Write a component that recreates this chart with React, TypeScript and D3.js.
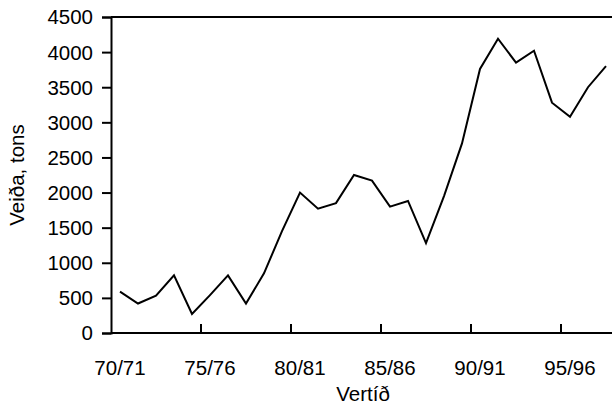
import { useEffect, useRef } from 'react';
import * as d3 from 'd3';

const seasons = [
  '70/71', '71/72', '72/73', '73/74', '74/75', '75/76', '76/77', '77/78', '78/79', '79/80',
  '80/81', '81/82', '82/83', '83/84', '84/85', '85/86', '86/87', '87/88', '88/89', '89/90',
  '90/91', '91/92', '92/93', '93/94', '94/95', '95/96', '96/97', '97/98',
];
const catch_ = [
  590, 420, 530, 820, 270, 540, 820, 420, 850, 1450,
  2000, 1770, 1850, 2250, 2170, 1800, 1880, 1280, 1950, 2700,
  3760, 4190, 3850, 4020, 3280, 3080, 3500, 3800,
];
const labelSeasons = ['70/71', '75/76', '80/81', '85/86', '90/91', '95/96'];
const yTicks = [0, 500, 1000, 1500, 2000, 2500, 3000, 3500, 4000, 4500];

export default function App() {
  const svgRef = useRef<SVGSVGElement>(null);

  useEffect(() => {
    if (!svgRef.current) return;
    const width = 612;
    const height = 406;
    const margin = { top: 17, left: 111, bottom: 73 };
    const plotRight = margin.left + seasons.length * 18;
    const font = '"Liberation Sans", Arial, sans-serif';
    const fontSize = '20.5px';

    const svg = d3.select(svgRef.current);
    svg.selectAll('*').remove();
    svg.attr('width', width).attr('height', height);

    const x = d3.scaleBand().domain(seasons).range([margin.left, plotRight]);
    const y = d3
      .scaleLinear()
      .domain([0, 4500])
      .range([height - margin.bottom, margin.top]);

    // frame top
    svg
      .append('line')
      .attr('x1', margin.left)
      .attr('x2', plotRight)
      .attr('y1', y(4500))
      .attr('y2', y(4500))
      .attr('stroke', '#000')
      .attr('stroke-width', 2);

    const yAxis = svg
      .append('g')
      .attr('transform', `translate(${margin.left},0)`)
      .call(
        d3.axisLeft(y).tickValues(yTicks).tickFormat(d3.format('d')).tickSize(9).tickPadding(9),
      );
    yAxis.select('.domain').attr('stroke-width', 2);
    yAxis.selectAll('.tick line').attr('stroke-width', 2);
    yAxis
      .selectAll('text')
      .style('font-family', font)
      .style('font-size', fontSize)
      .attr('dy', '0.34em')
      .attr('fill', '#000');

    // bottom axis: ticks on every 5th band boundary, pointing inward
    const g = svg.append('g');
    g.append('line')
      .attr('x1', margin.left)
      .attr('x2', plotRight)
      .attr('y1', y(0))
      .attr('y2', y(0))
      .attr('stroke', '#000')
      .attr('stroke-width', 2);
    g.selectAll('.xtick')
      .data(labelSeasons.slice(1))
      .enter()
      .append('line')
      .attr('x1', (d) => x(d) || 0)
      .attr('x2', (d) => x(d) || 0)
      .attr('y1', y(0))
      .attr('y2', y(0) - 9)
      .attr('stroke', '#000')
      .attr('stroke-width', 2);
    g.selectAll('.xlabel')
      .data(labelSeasons)
      .enter()
      .append('text')
      .attr('x', (d) => (x(d) || 0) + x.bandwidth() / 2)
      .attr('y', 375)
      .attr('text-anchor', 'middle')
      .style('font-family', font)
      .style('font-size', fontSize)
      .text((d) => d);

    const line = d3
      .line<number>()
      .x((_, i) => (x(seasons[i]) || 0) + x.bandwidth() / 2)
      .y((d) => y(d));
    svg
      .append('path')
      .datum(catch_)
      .attr('d', line)
      .attr('fill', 'none')
      .attr('stroke', '#000')
      .attr('stroke-width', 2)
      .attr('stroke-linejoin', 'miter');

    svg
      .append('text')
      .attr('x', (margin.left + plotRight) / 2)
      .attr('y', 401)
      .attr('text-anchor', 'middle')
      .style('font-family', font)
      .style('font-size', fontSize)
      .text('Vertíð');

    svg
      .append('text')
      .attr('transform', `translate(24, ${(y(0) + y(4500)) / 2}) rotate(-90)`)
      .attr('text-anchor', 'middle')
      .style('font-family', font)
      .style('font-size', fontSize)
      .text('Veiða, tons');
  }, []);

  return (
    <svg
      ref={svgRef}
      style={{ position: 'absolute', left: 0, top: 0, background: '#fff' }}
    />
  );
}
